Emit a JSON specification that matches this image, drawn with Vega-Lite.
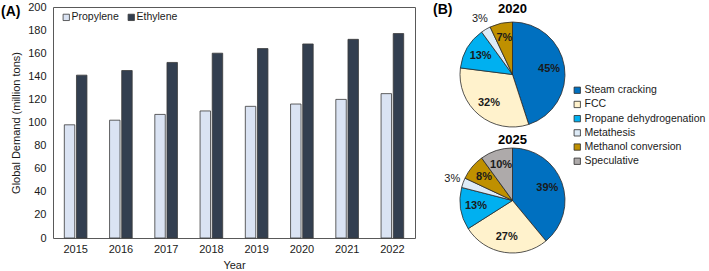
{
  "$schema": "https://vega.github.io/schema/vega-lite/v6.json",
  "padding": {"left": 0, "top": 0, "right": 0, "bottom": 0},
  "config": {
    "font": "Liberation Sans",
    "view": {"stroke": null},
    "axis": {"labelFontSize": 11, "titleFontSize": 11, "titleFontWeight": "normal", "labelColor": "#1a1a1a", "titleColor": "#1a1a1a"},
    "legend": {"labelFontSize": 10.5, "labelColor": "#1a1a1a"}
  },
  "datasets": {
    "pies": [
      {"year": "2020", "route": "Steam cracking", "k": 1, "share": 0.45},
      {"year": "2020", "route": "FCC", "k": 2, "share": 0.32},
      {"year": "2020", "route": "Propane dehydrogenation", "k": 3, "share": 0.13},
      {"year": "2020", "route": "Metathesis", "k": 4, "share": 0.03},
      {"year": "2020", "route": "Methanol conversion", "k": 5, "share": 0.07},
      {"year": "2025", "route": "Steam cracking", "k": 1, "share": 0.39},
      {"year": "2025", "route": "FCC", "k": 2, "share": 0.27},
      {"year": "2025", "route": "Propane dehydrogenation", "k": 3, "share": 0.13},
      {"year": "2025", "route": "Metathesis", "k": 4, "share": 0.03},
      {"year": "2025", "route": "Methanol conversion", "k": 5, "share": 0.08},
      {"year": "2025", "route": "Speculative", "k": 6, "share": 0.10}
    ]
  },
  "resolve": {"scale": {"color": "independent"}},
  "spacing": 17,
  "hconcat": [
    {
      "width": 362,
      "height": 231,
      "view": {"stroke": "#595959", "strokeWidth": 1},
      "title": {"text": "(A)", "anchor": "start", "frame": "group", "dx": -52, "dy": 18, "offset": 0, "fontSize": 14, "fontWeight": "bold", "color": "#000"},
      "data": {"values": [
        {"year": "2015", "product": "Propylene", "demand": 98},
        {"year": "2015", "product": "Ethylene", "demand": 141},
        {"year": "2016", "product": "Propylene", "demand": 102},
        {"year": "2016", "product": "Ethylene", "demand": 145},
        {"year": "2017", "product": "Propylene", "demand": 107},
        {"year": "2017", "product": "Ethylene", "demand": 152},
        {"year": "2018", "product": "Propylene", "demand": 110},
        {"year": "2018", "product": "Ethylene", "demand": 160},
        {"year": "2019", "product": "Propylene", "demand": 114},
        {"year": "2019", "product": "Ethylene", "demand": 164},
        {"year": "2020", "product": "Propylene", "demand": 116},
        {"year": "2020", "product": "Ethylene", "demand": 168},
        {"year": "2021", "product": "Propylene", "demand": 120},
        {"year": "2021", "product": "Ethylene", "demand": 172},
        {"year": "2022", "product": "Propylene", "demand": 125},
        {"year": "2022", "product": "Ethylene", "demand": 177}
      ]},
      "mark": {"type": "bar", "stroke": "#3a3a3a", "strokeWidth": 0.8},
      "encoding": {
        "x": {"field": "year", "type": "nominal", "title": "Year",
              "scale": {"paddingInner": 0.5, "paddingOuter": 0.25},
              "axis": {"labelAngle": 0, "ticks": false, "domain": false, "labelPadding": 5, "titlePadding": 5}},
        "xOffset": {"field": "product", "type": "nominal", "sort": ["Propylene", "Ethylene"], "scale": {"paddingInner": 0.14}},
        "y": {"field": "demand", "type": "quantitative", "title": "Global Demand (million tons)",
              "scale": {"domain": [0, 200]},
              "axis": {"values": [0, 20, 40, 60, 80, 100, 120, 140, 160, 180, 200], "grid": false, "ticks": false, "domain": false, "labelPadding": 7, "titlePadding": 6}},
        "color": {"field": "product", "type": "nominal",
                  "scale": {"domain": ["Propylene", "Ethylene"], "range": ["#DAE3F3", "#333F50"]},
                  "legend": {"title": null, "orient": "none", "legendX": 8, "legendY": 5, "direction": "horizontal",
                             "symbolType": "square", "symbolSize": 40, "symbolStrokeColor": "#3a3a3a", "symbolStrokeWidth": 0.8,
                             "labelOffset": 0, "columnPadding": 7}}
      }
    },
    {
      "title": {"text": "(B)", "anchor": "start", "frame": "group", "dx": -27, "dy": 14, "offset": 0, "fontSize": 14, "fontWeight": "bold", "color": "#000"},
      "spacing": -9,
      "vconcat": [
        {
          "width": 105, "height": 135,
          "title": {"text": "2020", "fontSize": 13, "fontWeight": "bold", "offset": 0, "dy": 10, "color": "#000"},
          "data": {"name": "pies"},
          "transform": [{"filter": "datum.year == '2020'"}],
          "encoding": {
            "theta": {"field": "share", "type": "quantitative", "stack": true},
            "order": {"field": "k", "type": "quantitative"}
          },
          "layer": [
            {"mark": {"type": "arc", "stroke": "#2a2a2a", "strokeWidth": 0.8},
             "encoding": {"color": {"field": "route", "type": "nominal",
               "scale": {"domain": ["Steam cracking", "FCC", "Propane dehydrogenation", "Metathesis", "Methanol conversion", "Speculative"],
                         "range": ["#0070C0", "#FFF2CC", "#00B0F0", "#DEEBF7", "#BF9000", "#AEAAAA"]},
               "legend": {"title": null, "orient": "none", "legendX": 112, "legendY": 78, "symbolType": "square", "symbolSize": 40,
                          "symbolStrokeColor": "#2a2a2a", "symbolStrokeWidth": 0.8, "labelOffset": 2, "rowPadding": 3.2, "labelLimit": 300}}}},
            {"mark": {"type": "text", "radius": 37, "fontSize": 11, "fontWeight": "bold", "color": "#1a1a1a"},
             "encoding": {"text": {"condition": {"test": "datum.share > 0.05", "field": "share", "type": "quantitative", "format": ".0%"}, "value": ""}}},
            {"mark": {"type": "text", "radius": 64, "fontSize": 11, "color": "#1a1a1a"},
             "encoding": {"text": {"condition": {"test": "datum.share < 0.05", "field": "share", "type": "quantitative", "format": ".0%"}, "value": ""}}}
          ]
        },
        {
          "width": 105, "height": 105,
          "title": {"text": "2025", "fontSize": 13, "fontWeight": "bold", "offset": 0, "dy": 13.5, "color": "#000"},
          "data": {"name": "pies"},
          "transform": [{"filter": "datum.year == '2025'"}],
          "encoding": {
            "theta": {"field": "share", "type": "quantitative", "stack": true},
            "order": {"field": "k", "type": "quantitative"}
          },
          "layer": [
            {"mark": {"type": "arc", "stroke": "#2a2a2a", "strokeWidth": 0.8},
             "encoding": {"color": {"field": "route", "type": "nominal"}}},
            {"mark": {"type": "text", "radius": 37, "fontSize": 11, "fontWeight": "bold", "color": "#1a1a1a"},
             "encoding": {"text": {"condition": {"test": "datum.share > 0.05", "field": "share", "type": "quantitative", "format": ".0%"}, "value": ""}}},
            {"mark": {"type": "text", "radius": 64, "fontSize": 11, "color": "#1a1a1a"},
             "encoding": {"text": {"condition": {"test": "datum.share < 0.05", "field": "share", "type": "quantitative", "format": ".0%"}, "value": ""}}}
          ]
        }
      ]
    }
  ]
}
